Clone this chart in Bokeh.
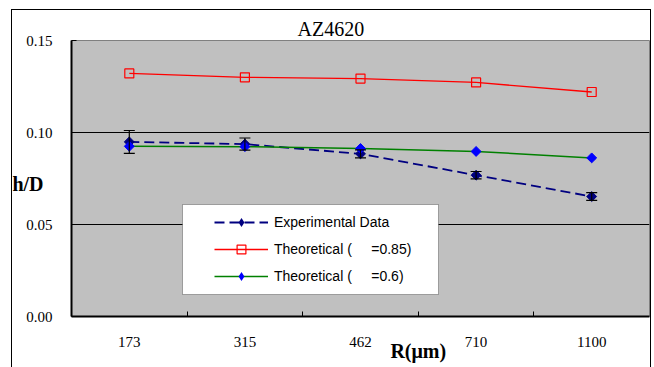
import numpy as np
from bokeh.plotting import figure
from bokeh.models import (Range1d, FixedTicker, NumeralTickFormatter, ColumnDataSource,
                          Whisker, TeeHead, Legend, LegendItem, BoxAnnotation, LinearAxis)
from bokeh.embed import file_html
from bokeh.resources import INLINE

# ---- data ----
categories = ["173", "315", "462", "710", "1100"]
exp_values = [0.0949, 0.0937, 0.0884, 0.0768, 0.0652]
exp_errors = [0.0062, 0.0033, 0.0022, 0.0020, 0.0021]
theo_085 = [0.1321, 0.1300, 0.1293, 0.1272, 0.1220]
theo_06 = [0.0925, 0.0923, 0.0913, 0.0897, 0.0862]
y_ticks = [0.0, 0.05, 0.10, 0.15]
title_text = "AZ4620"
x_title = "R(\u03bcm)"
y_title = "h/D"

W, H = 654, 367
FX0, FX1, FY0, FY1 = 71, 649, 316, 40
NCAT = len(categories)
def px2x(px):
    return (px - FX0) / (FX1 - FX0) * NCAT
def py2y(py):
    return (FY0 - py) / (FY0 - FY1) * 0.15

xs = [i + 0.5 for i in range(NCAT)]
serif = "Liberation Serif"

p = figure(width=W, height=H, output_backend="svg", toolbar_location=None,
           x_range=Range1d(0, NCAT), y_range=Range1d(0, 0.15))
p.min_border_left = FX0
p.min_border_right = W - FX1
p.min_border_top = FY1
p.min_border_bottom = H - FY0
p.background_fill_color = "#C0C0C0"
p.border_fill_color = "white"
p.border_fill_alpha = 0
p.outline_line_color = "#808080"
p.outline_line_width = 1
# outer chart frame (drawn behind the transparent canvas border)
p.styles = {
    "background": ("linear-gradient(#000,#000) 11px 9px / 1px 400px no-repeat, "
                   "linear-gradient(#000,#000) 11px 9px / 640px 1px no-repeat, "
                   "linear-gradient(#000,#000) 650px 9px / 1px 400px no-repeat, white"),
}

# title
p.title.text = title_text
p.title.align = "left"
p.title.offset = 297 - FX0
p.title.standoff = 1
p.title.text_font = serif
p.title.text_font_size = "20px"
p.title.text_font_style = "normal"
p.title.text_color = "black"

# x axis
p.xaxis.ticker = FixedTicker(ticks=xs, minor_ticks=[1, 2, 3, 4])
p.xaxis.major_label_overrides = {x: c for x, c in zip(xs, categories)}
p.xaxis.major_tick_in = 0
p.xaxis.major_tick_out = 0
p.xaxis.minor_tick_in = 5
p.xaxis.minor_tick_out = 0
p.xaxis.minor_tick_line_color = "black"
p.xaxis.axis_line_color = "black"
p.xaxis.axis_line_width = 2
p.xaxis.major_label_standoff = 20
p.xaxis.major_label_text_font = serif
p.xaxis.major_label_text_font_size = "15px"
p.xaxis.major_label_text_color = "black"

# x axis title as second below axis (placed between 462 and 710)
xt_axis = LinearAxis(ticker=FixedTicker(ticks=[3.0]), major_label_overrides={3.0: x_title},
                     axis_line_color=None, major_tick_line_color=None,
                     minor_tick_line_color=None, major_label_standoff=-16,
                     major_label_text_font=serif, major_label_text_font_size="20px",
                     major_label_text_font_style="bold", major_label_text_color="black")
p.add_layout(xt_axis, "below")

# y axis
p.yaxis.ticker = FixedTicker(ticks=y_ticks)
p.yaxis.formatter = NumeralTickFormatter(format="0.00")
p.yaxis.major_tick_in = 5
p.yaxis.major_tick_out = 0
p.yaxis.minor_tick_line_color = None
p.yaxis.axis_line_color = "black"
p.yaxis.axis_line_width = 2
p.yaxis.major_label_standoff = 19
p.yaxis.major_label_text_font = serif
p.yaxis.major_label_text_font_size = "15px"
p.yaxis.major_label_text_color = "black"

yt_axis = LinearAxis(ticker=FixedTicker(ticks=[0.072]), major_label_overrides={0.072: y_title},
                     axis_line_color=None, major_tick_line_color=None,
                     minor_tick_line_color=None, major_label_standoff=-26,
                     major_label_text_font=serif, major_label_text_font_size="20px",
                     major_label_text_font_style="bold", major_label_text_color="black")
p.add_layout(yt_axis, "left")

p.xgrid.grid_line_color = None
p.ygrid.ticker = FixedTicker(ticks=[0.05, 0.10])
p.ygrid.grid_line_color = "black"
p.ygrid.grid_line_width = 1

src = ColumnDataSource(dict(x=xs, exp=exp_values,
                            upper=[v + e for v, e in zip(exp_values, exp_errors)],
                            lower=[v - e for v, e in zip(exp_values, exp_errors)],
                            t85=theo_085, t6=theo_06))

r_red_line = p.line("x", "t85", source=src, line_color="#FF0000", line_width=1.3)
r_red_pts = p.scatter("x", "t85", source=src, marker="square", size=9,
                      fill_alpha=0, line_color="#FF0000", line_width=1.2)

wh = Whisker(base="x", upper="upper", lower="lower", source=src, line_color="black",
             line_width=1.2, level="glyph",
             upper_head=TeeHead(size=11, line_color="black", line_width=1.2),
             lower_head=TeeHead(size=11, line_color="black", line_width=1.2))
p.add_layout(wh)

r_exp_line = p.line("x", "exp", source=src, line_color="#000080", line_width=1.8,
                    line_dash="10 5")
r_exp_pts = p.scatter("x", "exp", source=src, marker="square", angle=np.pi / 4, size=7,
                      fill_color="#000080", line_color="#000080")

r_grn_line = p.line("x", "t6", source=src, line_color="#008000", line_width=1.5)
r_grn_pts = p.scatter("x", "t6", source=src, marker="square", angle=np.pi / 4, size=7,
                      fill_color="#0000FF", line_color="#0000FF")

# legend-only diamond glyphs: zero size on the chart, legend sizes them itself
leg_exp = p.scatter("x", "exp", source=src, marker="diamond", size=0,
                    fill_color="#000080", line_color=None)
leg_grn = p.scatter("x", "t6", source=src, marker="diamond", size=0,
                    fill_color="#0000FF", line_color=None)

box = BoxAnnotation(left=px2x(182), right=px2x(438), top=py2y(204), bottom=py2y(294),
                    fill_color="white", fill_alpha=1, line_color="black", line_width=1,
                    level="annotation")
p.add_layout(box)

nb = "\u00a0"
GH = 22
legend = Legend(items=[
    LegendItem(label="Experimental Data", renderers=[r_exp_line, leg_exp]),
    LegendItem(label="Theoretical (" + nb * 5 + "=0.85)", renderers=[r_red_line, r_red_pts]),
    LegendItem(label="Theoretical (" + nb * 5 + "=0.6)", renderers=[r_grn_line, leg_grn]),
], location=(214 - FX0, FY0 - (222 - GH / 2 + 3 * GH + 2 * (27 - GH))), padding=0, margin=0,
   spacing=27 - GH, label_height=GH, glyph_height=GH, glyph_width=54, label_standoff=6,
   background_fill_alpha=0, border_line_alpha=0, label_text_font="Liberation Sans",
   label_text_font_size="14px", label_text_color="black")
p.add_layout(legend, "center")

open("out.html", "w").write(file_html(p, INLINE))
